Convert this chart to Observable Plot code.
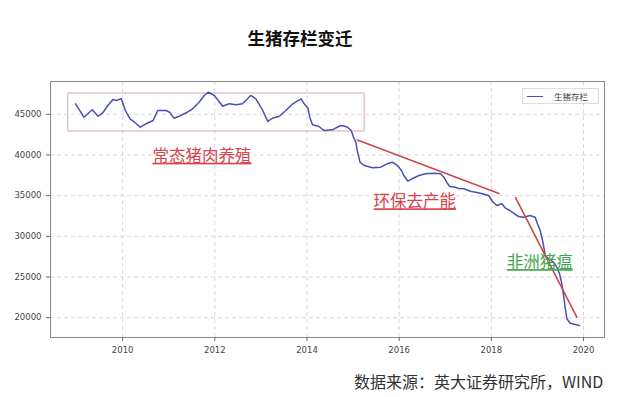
<!DOCTYPE html>
<html><head><meta charset="utf-8">
<script src="https://cdn.jsdelivr.net/npm/d3@7"></script>
<script src="https://cdn.jsdelivr.net/npm/@observablehq/plot@0.6"></script>
<style>
body{margin:0;background:#fff;width:640px;height:397px;position:relative;overflow:hidden;font-family:"Noto Sans CJK SC","Noto Sans",sans-serif}
#title{position:absolute;left:0;width:600px;top:26px;text-align:center;font-size:17.5px;font-weight:bold;color:#111;line-height:24px}
#chart{position:absolute;left:0;top:70px}
#legend{position:absolute;left:522px;top:88px;width:77px;height:16px;background:#fff;border:1px solid #ddd;box-sizing:border-box;font-size:8.5px;color:#444;line-height:14px}
#legend .sw{position:absolute;left:4px;top:6.5px;width:16px;height:1.5px;background:#4a4fb5}
#legend .lb{position:absolute;left:31px;top:0}
#caption{position:absolute;left:354px;top:370px;font-size:16px;color:#333;line-height:22px;white-space:nowrap}
</style></head><body>
<div id="title">生猪存栏变迁</div>
<div id="chart"></div>
<div id="legend"><span class="sw"></span><span class="lb">生猪存栏</span></div>
<div id="caption">数据来源：英大证券研究所，WIND</div>
<script>
// series: 生猪存栏 (decimal year, value)
const years = [2008.98,2009.16,2009.34,2009.47,2009.57,2009.68,2009.79,2009.86,2009.97,2010.06,2010.16,2010.26,2010.38,2010.51,2010.66,2010.76,2010.94,2011.02,2011.11,2011.23,2011.38,2011.52,2011.66,2011.77,2011.86,2011.99,2012.17,2012.31,2012.46,2012.60,2012.78,2012.89,2013.04,2013.15,2013.25,2013.40,2013.54,2013.69,2013.87,2013.94,2014.02,2014.06,2014.12,2014.26,2014.37,2014.55,2014.73,2014.80,2014.88,2014.96,2015.01,2015.06,2015.09,2015.15,2015.24,2015.42,2015.60,2015.74,2015.85,2015.96,2016.05,2016.10,2016.19,2016.28,2016.43,2016.57,2016.75,2016.90,2016.97,2017.03,2017.10,2017.22,2017.29,2017.40,2017.55,2017.76,2017.94,2018.04,2018.12,2018.23,2018.30,2018.40,2018.48,2018.59,2018.70,2018.84,2018.95,2019.00,2019.06,2019.12,2019.17,2019.24,2019.35,2019.42,2019.48,2019.53,2019.57,2019.60,2019.64,2019.71,2019.82,2019.91];
const stock = [46290,44644,45553,44766,45184,46082,46819,46696,46905,45467,44447,44029,43415,43832,44238,45467,45467,45258,44521,44766,45184,45676,46487,47311,47716,47311,45995,46290,46168,46290,47311,46905,45467,44115,44521,44766,45467,46290,46905,46290,45750,44644,43710,43501,43009,43095,43624,43562,43415,43009,42186,41571,40551,39113,38708,38425,38499,38916,39113,38708,38093,37479,36778,37073,37479,37687,37761,37687,37270,36655,36127,36041,35881,35844,35549,35303,35021,34197,33792,34000,33509,33177,32845,32440,32354,32563,32354,31542,30719,29244,27647,27241,26823,26209,25397,24168,22608,21293,19867,19326,19166,19044];

const xTicks = [2010, 2012, 2014, 2016, 2018, 2020];
const yTicks = [20000, 25000, 30000, 35000, 40000, 45000];

// annotations
const boxX = [2008.82, 2015.25];
const boxY = [42886, 47556];
const trendX1 = [2015.08, 2018.52];
const trendY1 = [41866, 34812];
const trendX2 = [2018.18, 2019.86];
const trendY2 = [35230, 20025];
const labelText = ["常态猪肉养殖", "环保去产能", "非洲猪瘟"];
const labelX = [2011.72, 2016.34, 2019.05];
const labelY = [39818, 34220, 26748];
const labelColor = ["#d8434c", "#d8434c", "#3fa650"];

const data = years.map((t, i) => ({t, v: stock[i]}));
const trends = trendX1.map((x1, i) => ({x1, y1: trendY1[i], x2: trendX2[i], y2: trendY2[i]}));
const labels = labelText.map((text, i) => ({text, x: labelX[i], y: labelY[i], c: labelColor[i]}));
const box = [{x1: boxX[0], x2: boxX[1], y1: boxY[0], y2: boxY[1]}];

const chart = Plot.plot({
  width: 640,
  height: 292,
  marginTop: 11,
  marginBottom: 25,
  marginLeft: 50,
  marginRight: 36,
  style: {fontFamily: '"DejaVu Sans", sans-serif', color: "#444", background: "transparent"},
  x: {domain: [2008.435, 2020.455]},
  y: {domain: [17570, 49030]},
  marks: [
    Plot.gridX(xTicks, {stroke: "#dcd4de", strokeOpacity: 1, strokeDasharray: "4,3"}),
    Plot.gridY(yTicks, {stroke: "#dcd4de", strokeOpacity: 1, strokeDasharray: "4,3"}),
    Plot.rect(box, {x1: "x1", x2: "x2", y1: "y1", y2: "y2", fill: "none", stroke: "#d9a4ac", strokeWidth: 1}),
    Plot.line(data, {x: "t", y: "v", stroke: "#4a4fb5", strokeWidth: 1.5}),
    Plot.link(trends, {x1: "x1", y1: "y1", x2: "x2", y2: "y2", stroke: "#cc4848", strokeWidth: 1.6}),
    Plot.text(labels, {x: "x", y: "y", text: "text", fill: "c", fontSize: 16.5, fontFamily: '"Noto Sans CJK SC", sans-serif'}),
    Plot.frame({stroke: "#8a8a8a", strokeWidth: 1}),
    Plot.axisX(xTicks, {tickFormat: "d", tickSize: 4, fontSize: 8.5, label: null, stroke: "#666"}),
    Plot.axisY(yTicks, {tickFormat: "d", tickSize: 4, fontSize: 8.5, label: null, stroke: "#666"})
  ]
});
document.getElementById("chart").appendChild(chart);
d3.select(chart).selectAll('g[aria-label="text"] text').style("text-decoration", "underline");
</script>
</body></html>
